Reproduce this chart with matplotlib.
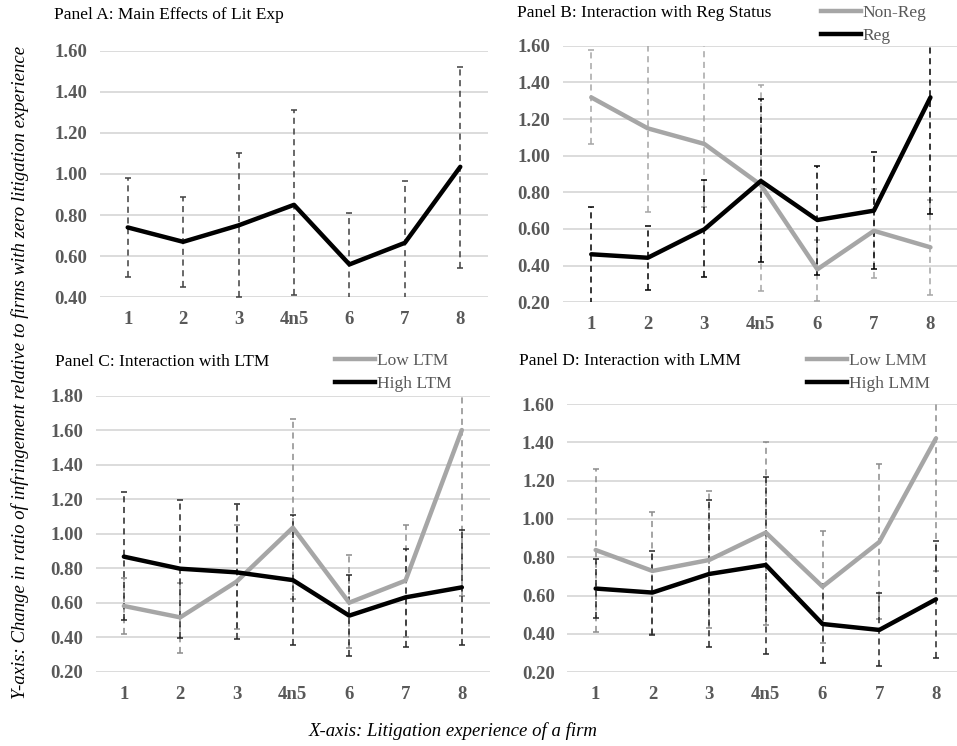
import matplotlib
matplotlib.use("Agg")
import matplotlib.pyplot as plt
from matplotlib.lines import Line2D

plt.rcParams['font.family'] = ['Liberation Serif', 'DejaVu Serif']

categories = ['1', '2', '3', '4n5', '6', '7', '8']

# Panel A
A_val = [0.74, 0.67, 0.75, 0.85, 0.56, 0.665, 1.035]
A_lo = [0.50, 0.45, 0.40, 0.41, 0.39, 0.39, 0.545]
A_hi = [0.98, 0.89, 1.10, 1.31, 0.81, 0.965, 1.52]

# Panel B
B_nonreg = [1.318, 1.149, 1.064, 0.84, 0.38, 0.59, 0.50]
B_nonreg_lo = [1.062, 0.691, 0.72, 0.263, 0.209, 0.33, 0.24]
B_nonreg_hi = [1.576, 1.70, 1.70, 1.385, 0.54, 0.82, 0.76]
B_reg = [0.462, 0.443, 0.598, 0.862, 0.649, 0.70, 1.318]
B_reg_lo = [0.19, 0.267, 0.336, 0.418, 0.347, 0.383, 0.68]
B_reg_hi = [0.722, 0.616, 0.866, 1.307, 0.945, 1.02, 1.70]

# Panel C
C_low = [0.581, 0.515, 0.722, 1.035, 0.60, 0.728, 1.601]
C_low_lo = [0.417, 0.306, 0.45, 0.62, 0.335, 0.40, 0.636]
C_low_hi = [0.742, 0.717, 1.052, 1.666, 0.874, 1.048, 1.90]
C_high = [0.867, 0.797, 0.776, 0.731, 0.525, 0.631, 0.689]
C_high_lo = [0.50, 0.394, 0.388, 0.352, 0.291, 0.345, 0.355]
C_high_hi = [1.24, 1.197, 1.174, 1.108, 0.761, 0.912, 1.019]

# Panel D
D_low = [0.838, 0.729, 0.786, 0.929, 0.647, 0.88, 1.421]
D_low_lo = [0.412, 0.40, 0.43, 0.447, 0.351, 0.477, 0.73]
D_low_hi = [1.259, 1.038, 1.148, 1.403, 0.937, 1.285, 1.70]
D_high = [0.637, 0.616, 0.713, 0.76, 0.452, 0.421, 0.581]
D_high_lo = [0.482, 0.395, 0.33, 0.296, 0.25, 0.233, 0.273]
D_high_hi = [0.79, 0.835, 1.10, 1.221, 0.66, 0.612, 0.885]

W, H = 957, 746
fig = plt.figure(figsize=(W / 100, H / 100), dpi=100)

GRAY = '#a6a6a6'
BLACK = '#000000'
TICKC = '#595959'


def px_axes(l, r, t, b):
    return fig.add_axes([l / W, 1 - b / H, (r - l) / W, (b - t) / H])


def style(ax, ylim, yticks):
    x = list(range(len(categories)))
    ax.set_xlim(-0.5, len(categories) - 0.5)
    ax.set_ylim(*ylim)
    ax.set_yticks(yticks)
    ax.set_yticklabels(['%.2f' % v for v in yticks])
    ax.set_xticks(x)
    ax.set_xticklabels(categories)
    for s in ax.spines.values():
        s.set_visible(False)
    ax.yaxis.grid(True, color='#d9d9d9', lw=1.3)
    ax.set_axisbelow(True)
    ax.tick_params(length=0, labelsize=13.5, labelcolor=TICKC)
    ax.tick_params(axis='y', pad=9)
    ax.tick_params(axis='x', pad=10)
    for lab in ax.get_xticklabels() + ax.get_yticklabels():
        lab.set_fontweight('bold')


def series(ax, vals, lo, hi, color, ecolor):
    x = list(range(len(vals)))
    yerr = [[v - l for v, l in zip(vals, lo)], [h - v for v, h in zip(vals, hi)]]
    eb = ax.errorbar(x, vals, yerr=yerr, fmt='none', ecolor=ecolor,
                     elinewidth=1.1, capsize=2.5, capthick=1.1, zorder=2)
    for lc in eb[2]:
        lc.set_linestyle((0, (4, 3)))
    ax.plot(x, vals, color=color, lw=3.2, zorder=3, solid_capstyle='round')


def legend(ax, labels, colors, x, y):
    handles = [Line2D([0], [0], color=c, lw=3.2) for c in colors]
    ax.legend(handles, labels, loc='upper left', bbox_to_anchor=(x / W, 1 - y / H),
              bbox_transform=fig.transFigure, frameon=False, fontsize=12.5,
              handlelength=2.3, handletextpad=0.1, labelspacing=0.38,
              borderpad=0, borderaxespad=0, labelcolor=TICKC)


# Panel A
axA = px_axes(100, 488, 50.7, 297.3)
series(axA, A_val, A_lo, A_hi, BLACK, '#404040')
style(axA, (0.4, 1.6), [0.4, 0.6, 0.8, 1.0, 1.2, 1.4, 1.6])
fig.text(54 / W, 1 - 15 / H, 'Panel A: Main Effects of Lit Exp', fontsize=12.5,
         va='center', ha='left')

# Panel B
axB = px_axes(563, 957, 45.7, 302.3)
series(axB, B_nonreg, B_nonreg_lo, B_nonreg_hi, GRAY, GRAY)
series(axB, B_reg, B_reg_lo, B_reg_hi, BLACK, BLACK)
style(axB, (0.2, 1.6), [0.2, 0.4, 0.6, 0.8, 1.0, 1.2, 1.4, 1.6])
axB.set_xlim(-0.5, 6.47)
fig.text(517 / W, 1 - 13 / H, 'Panel B: Interaction with Reg Status', fontsize=12.5,
         va='center', ha='left')
legend(axB, ['Non-Reg', 'Reg'], [GRAY, BLACK], 821, 5)

# Panel C
axC = px_axes(95.7, 490, 395.7, 671.7)
series(axC, C_low, C_low_lo, C_low_hi, GRAY, '#8c8c8c')
series(axC, C_high, C_high_lo, C_high_hi, BLACK, '#262626')
style(axC, (0.2, 1.8), [0.2, 0.4, 0.6, 0.8, 1.0, 1.2, 1.4, 1.6, 1.8])
fig.text(55 / W, 1 - 362 / H, 'Panel C: Interaction with LTM', fontsize=12.5,
         va='center', ha='left')
legend(axC, ['Low LTM', 'High LTM'], [GRAY, BLACK], 335, 353)

# Panel D
axD = px_axes(567.3, 957, 404, 672.3)
series(axD, D_low, D_low_lo, D_low_hi, GRAY, '#8c8c8c')
series(axD, D_high, D_high_lo, D_high_hi, BLACK, '#262626')
style(axD, (0.2, 1.6), [0.2, 0.4, 0.6, 0.8, 1.0, 1.2, 1.4, 1.6])
axD.set_xlim(-0.5, 6.37)
fig.text(519 / W, 1 - 361 / H, 'Panel D: Interaction with LMM', fontsize=12.5,
         va='center', ha='left')
legend(axD, ['Low LMM', 'High LMM'], [GRAY, BLACK], 807, 353)

fig.text(20 / W, 1 - 372 / H,
         'Y-axis: Change in ratio of infringement relative to firms with zero litigation experience',
         rotation=90, fontsize=13.5, style='italic', va='center', ha='center')
fig.text(453 / W, 1 - 731 / H, 'X-axis: Litigation experience of a firm',
         fontsize=13.5, style='italic', va='center', ha='center')

fig.savefig('out.png', dpi=100)
